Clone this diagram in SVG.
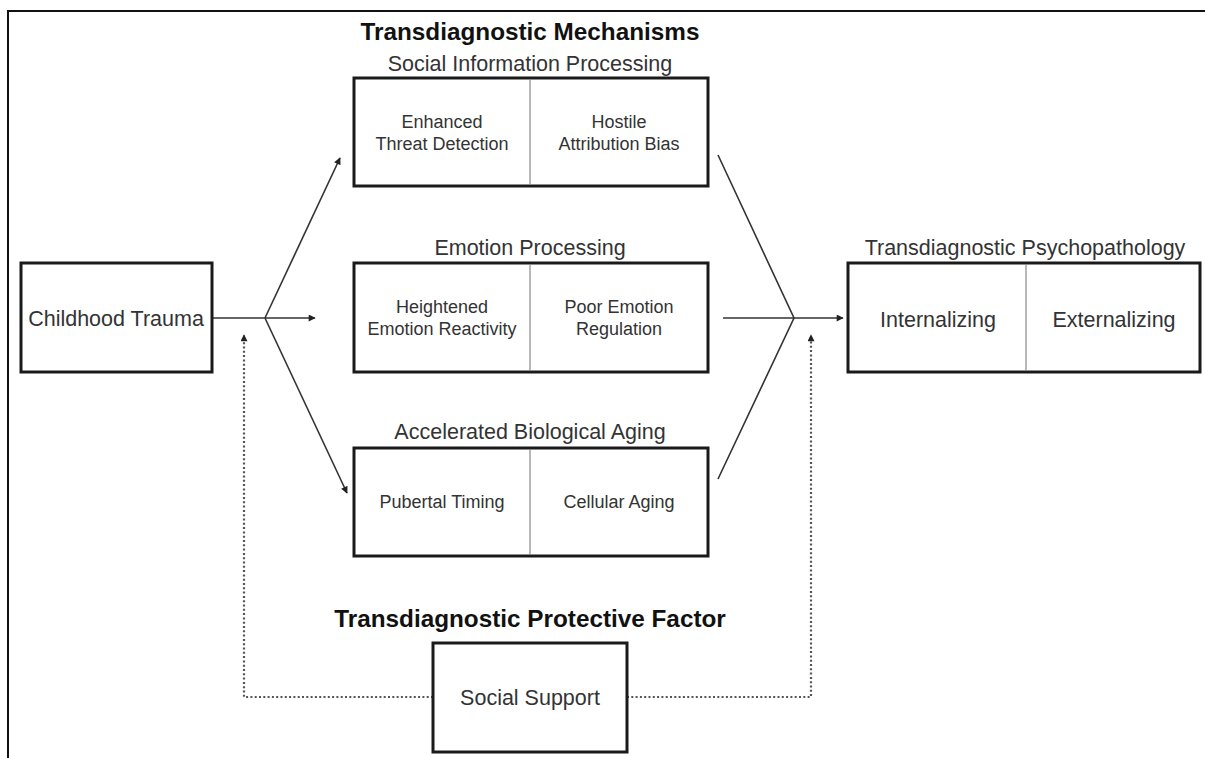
<svg xmlns="http://www.w3.org/2000/svg" width="1205" height="758" viewBox="0 0 1205 758">
<defs>
<style>
text{font-family:"Liberation Sans",Arial,sans-serif;fill:#333;text-anchor:middle}
.title{font-weight:bold;fill:#111}
.sub{font-size:21.5px}
.box{fill:#fff;stroke:#1a1a1a;stroke-width:3}
.div{stroke:#888;stroke-width:1.2}
.in{font-size:18px}
.big{font-size:21.5px}
.conn{fill:none;stroke:#333;stroke-width:1.6}
.dot{fill:none;stroke:#555;stroke-width:2.2;stroke-dasharray:2 2.3}
</style>
<marker id="arr" viewBox="0 0 10 10" refX="9" refY="5" markerWidth="8" markerHeight="7" markerUnits="userSpaceOnUse" orient="auto">
<path d="M0,0 L10,5 L0,10 z" fill="#222"/>
</marker>
</defs>
<rect width="1205" height="758" fill="#fff"/>
<path d="M8,758 V11 H1205" fill="none" stroke="#111" stroke-width="2"/>

<text class="title" x="530" y="40" font-size="24.3">Transdiagnostic Mechanisms</text>

<g id="connectors">
<path class="conn" d="M212,318 H265"/>
<path class="conn" d="M265,318 L340,158" marker-end="url(#arr)"/>
<path class="conn" d="M265,318 H315" marker-end="url(#arr)"/>
<path class="conn" d="M265,318 L347,493" marker-end="url(#arr)"/>
<path class="conn" d="M718,155 L794,318 L718,479"/>
<path class="conn" d="M723,318 H794"/>
<path class="conn" d="M794,318 H843" marker-end="url(#arr)"/>
<path class="dot" d="M433,697 H244 V335" marker-end="url(#arr)"/>
<path class="dot" d="M627,697 H811 V335" marker-end="url(#arr)"/>
</g>

<g id="trauma">
<rect class="box" x="21" y="263" width="191" height="109"/>
<text class="big" x="116" y="326">Childhood Trauma</text>
</g>

<g id="sip">
<text class="sub" x="530" y="71">Social Information Processing</text>
<rect class="box" x="354" y="78" width="354" height="108"/>
<line class="div" x1="530" y1="79" x2="530" y2="185"/>
<text class="in" x="442" y="128">Enhanced</text>
<text class="in" x="442" y="150">Threat Detection</text>
<text class="in" x="619" y="128">Hostile</text>
<text class="in" x="619" y="150">Attribution Bias</text>
</g>

<g id="emotion">
<text class="sub" x="530" y="255">Emotion Processing</text>
<rect class="box" x="354" y="263" width="354" height="109"/>
<line class="div" x1="530" y1="264" x2="530" y2="371"/>
<text class="in" x="442" y="313">Heightened</text>
<text class="in" x="442" y="335">Emotion Reactivity</text>
<text class="in" x="619" y="313">Poor Emotion</text>
<text class="in" x="619" y="335">Regulation</text>
</g>

<g id="aging">
<text class="sub" x="530" y="439">Accelerated Biological Aging</text>
<rect class="box" x="354" y="448" width="354" height="108"/>
<line class="div" x1="530" y1="449" x2="530" y2="555"/>
<text class="in" x="442" y="508">Pubertal Timing</text>
<text class="in" x="619" y="508">Cellular Aging</text>
</g>

<g id="psychopathology">
<text class="sub" x="1025" y="255">Transdiagnostic Psychopathology</text>
<rect class="box" x="848" y="263" width="352" height="109"/>
<line class="div" x1="1026" y1="264" x2="1026" y2="371"/>
<text class="big" x="938" y="327">Internalizing</text>
<text class="big" x="1114" y="327">Externalizing</text>
</g>

<g id="support">
<text class="title" x="530" y="627" font-size="24.3">Transdiagnostic Protective Factor</text>
<rect class="box" x="433" y="643" width="194" height="109"/>
<text class="big" x="530" y="705">Social Support</text>
</g>
</svg>
